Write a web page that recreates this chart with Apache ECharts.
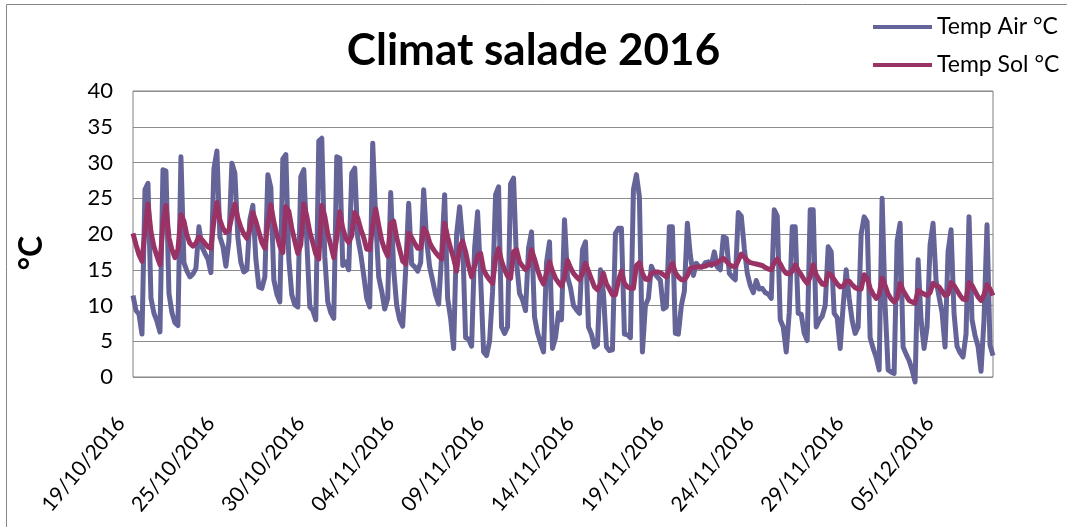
<!DOCTYPE html>
<html>
<head>
<meta charset="utf-8">
<script src="https://cdn.jsdelivr.net/npm/echarts@6/dist/echarts.min.js"></script>
<style>
  html, body { margin: 0; padding: 0; background: #fff; }
  #chart { width: 1067px; height: 527px; }
</style>
</head>
<body>
<div id="chart"></div>
<script>
// ---- data ----
const chartTitle = 'Climat salade 2016';
const yAxisTitle = '°C';
const seriesNames = ['Temp Air °C', 'Temp Sol °C'];

// days present in the record (one day missing between 21/10 and 23/10, and 01/12-03/12)
const days = [
  '19/10/2016','20/10/2016','21/10/2016','23/10/2016','24/10/2016','25/10/2016',
  '26/10/2016','27/10/2016','28/10/2016','29/10/2016','30/10/2016',
  '31/10/2016','01/11/2016','02/11/2016','03/11/2016','04/11/2016',
  '05/11/2016','06/11/2016','07/11/2016','08/11/2016','09/11/2016',
  '10/11/2016','11/11/2016','12/11/2016','13/11/2016','14/11/2016',
  '15/11/2016','16/11/2016','17/11/2016','18/11/2016','19/11/2016',
  '20/11/2016','21/11/2016','22/11/2016','23/11/2016','24/11/2016',
  '25/11/2016','26/11/2016','27/11/2016','28/11/2016','29/11/2016',
  '30/11/2016','01/12/2016','03/12/2016','04/12/2016','05/12/2016',
  '06/12/2016','07/12/2016'
];
const hours = ['00:00','04:00','08:00','12:00','16:00','20:00'];

const airTemp = [
  11.4, 9.3, 8.8, 6.0, 26.2, 27.1, 11.0, 8.9, 7.8, 6.3,
  29.0, 28.8, 11.7, 9.0, 7.6, 7.2, 30.8, 16.0, 14.8, 14.0,
  14.4, 15.2, 21.0, 18.2, 17.3, 16.5, 14.6, 29.1, 31.6, 19.6,
  18.3, 15.5, 19.0, 29.9, 28.5, 19.5, 16.0, 14.7, 15.0, 22.0,
  24.0, 16.5, 12.6, 12.4, 14.0, 28.3, 26.5, 13.6, 11.6, 10.5,
  30.5, 31.1, 16.5, 11.5, 10.1, 9.8, 28.0, 29.0, 19.0, 9.8,
  9.3, 8.0, 33.0, 33.4, 16.8, 10.5, 9.0, 8.2, 30.8, 30.6,
  15.6, 16.1, 15.0, 28.5, 29.2, 19.5, 17.2, 14.2, 11.0, 9.8,
  32.7, 22.0, 14.0, 12.0, 9.5, 11.0, 25.8, 15.0, 10.0, 8.0,
  7.1, 15.0, 24.3, 15.8, 15.4, 14.8, 16.0, 26.2, 19.0, 15.4,
  13.5, 11.5, 10.2, 17.0, 25.5, 11.0, 8.2, 4.0, 20.0, 23.8,
  19.0, 5.5, 5.3, 4.3, 18.0, 23.1, 14.0, 3.5, 3.0, 5.0,
  12.0, 25.5, 26.6, 7.0, 6.1, 7.0, 27.0, 27.8, 16.0, 11.7,
  10.8, 9.3, 18.0, 20.3, 8.4, 6.2, 4.8, 3.5, 16.0, 18.9,
  4.0, 5.5, 9.0, 8.0, 22.0, 14.0, 12.5, 10.0, 9.4, 8.9,
  17.8, 18.9, 7.0, 6.0, 4.2, 4.5, 15.0, 11.7, 4.2, 3.7,
  3.8, 20.1, 20.8, 20.8, 6.0, 5.9, 5.5, 26.2, 28.3, 25.2,
  3.5, 10.0, 11.0, 15.5, 14.5, 14.0, 13.5, 9.5, 9.8, 21.0,
  21.0, 6.1, 6.0, 10.0, 12.0, 21.5, 17.0, 14.2, 15.9, 15.4,
  15.4, 16.0, 16.1, 15.6, 17.5, 15.4, 15.0, 19.6, 19.4, 14.5,
  14.0, 13.6, 23.0, 22.5, 18.0, 14.5, 12.8, 11.8, 13.5, 12.3,
  12.4, 11.8, 11.6, 11.0, 23.4, 22.5, 8.0, 7.0, 3.5, 9.0,
  21.0, 21.0, 8.9, 8.8, 6.1, 5.1, 23.4, 23.4, 7.0, 7.9,
  8.5, 10.0, 18.2, 17.5, 8.9, 8.3, 4.0, 10.0, 15.0, 11.0,
  7.9, 6.1, 7.0, 20.0, 22.4, 21.7, 5.5, 4.0, 2.8, 1.0,
  25.0, 10.0, 1.0, 0.7, 0.5, 19.0, 21.5, 4.2, 3.2, 2.3,
  1.0, -0.7, 16.4, 8.0, 4.0, 7.0, 18.5, 21.5, 13.5, 11.2,
  9.0, 4.2, 17.5, 20.6, 8.9, 4.3, 3.4, 2.8, 6.0, 22.4,
  8.0, 5.8, 4.3, 0.8, 8.0, 21.3, 4.5, 3.0
];

const soilTemp = [
  20.1, 18.5, 17.1, 16.2, 20.5, 24.2, 20.3, 18.2, 16.9, 15.7,
  21.5, 24.0, 19.5, 17.8, 16.7, 17.8, 22.7, 21.8, 19.8, 18.7,
  18.3, 18.7, 19.6, 19.2, 18.7, 18.2, 18.0, 21.8, 24.4, 22.0,
  20.8, 20.2, 20.5, 22.5, 24.2, 22.2, 20.9, 20.0, 19.4, 20.6,
  23.0, 21.8, 20.3, 18.8, 18.0, 21.5, 24.1, 21.7, 19.9, 18.3,
  17.4, 23.8, 23.2, 20.8, 19.0, 17.3, 18.5, 24.2, 22.5, 20.3,
  18.8, 17.2, 16.5, 24.0, 22.5, 20.0, 18.4, 16.7, 19.5, 23.1,
  20.8, 19.4, 18.8, 19.8, 23.0, 22.2, 20.7, 19.5, 17.9, 17.8,
  21.3, 23.5, 21.2, 19.1, 17.8, 16.9, 21.5, 21.8, 19.5, 17.8,
  16.2, 15.8, 20.1, 19.5, 18.7, 18.0, 18.0, 20.8, 20.2, 18.8,
  18.0, 17.4, 16.9, 16.5, 21.5, 19.6, 18.0, 16.6, 14.8, 18.2,
  19.0, 17.5, 15.5, 14.0, 15.5, 17.0, 17.3, 15.0, 14.2, 13.6,
  13.1, 16.5, 18.0, 16.2, 15.0, 14.1, 13.8, 17.5, 17.8, 16.1,
  15.5, 15.0, 15.5, 17.8, 16.5, 15.0, 13.8, 13.0, 14.5, 16.1,
  14.8, 13.8, 13.2, 12.7, 14.0, 16.3, 15.3, 14.5, 14.0, 13.6,
  14.5, 15.9, 14.8, 13.7, 12.6, 12.2, 13.0, 14.5, 13.0, 12.3,
  11.5, 11.5, 13.5, 14.8, 13.1, 12.6, 12.4, 12.4, 15.6, 16.0,
  14.5, 13.7, 13.6, 14.5, 14.7, 14.7, 14.6, 14.3, 14.0, 15.0,
  15.9, 14.6, 14.0, 13.6, 13.6, 14.2, 15.2, 15.3, 15.4, 15.4,
  15.4, 15.5, 15.7, 15.8, 15.8, 16.0, 16.3, 16.6, 16.2, 15.7,
  15.5, 15.4, 16.3, 17.2, 16.8, 16.3, 16.0, 15.9, 15.8, 15.7,
  15.6, 15.3, 15.1, 15.0, 16.0, 16.5, 15.8, 15.0, 14.5, 14.4,
  14.8, 15.7, 14.9, 14.3, 13.6, 13.1, 14.0, 15.7, 14.3, 13.6,
  13.0, 12.9, 14.5, 14.3, 13.6, 13.0, 12.6, 12.7, 13.4, 13.4,
  12.9, 12.5, 12.3, 12.3, 14.3, 13.8, 12.4, 11.6, 11.0, 11.5,
  13.8, 12.8, 11.6, 10.9, 10.5, 11.0, 13.1, 12.1, 11.4, 10.7,
  10.5, 10.3, 12.1, 11.8, 11.6, 11.4, 11.8, 13.1, 12.8, 12.6,
  12.0, 11.4, 11.6, 13.2, 12.8, 12.1, 11.4, 10.9, 10.8, 13.2,
  12.8, 12.0, 11.2, 10.7, 11.5, 12.9, 12.3, 11.4
];

const yTicks = { min: 0, max: 40, step: 5 };

// ---- build categories ----
const categories = [];
days.forEach(d => hours.forEach(h => categories.push(d + ' ' + h)));

const FONT = 'Lato, "Open Sans", sans-serif';
const AIR_COLOR = '#646499';
const SOL_COLOR = '#993366';

const chart = echarts.init(document.getElementById('chart'), null, { renderer: 'canvas' });
chart.setOption({
  animation: false,
  backgroundColor: '#ffffff',
  textStyle: { fontFamily: FONT, color: '#000' },
  title: {
    text: chartTitle,
    left: 'center',
    top: 24,
    textStyle: { fontFamily: FONT, fontSize: 44, fontWeight: 'bold', color: '#000' }
  },
  legend: {
    orient: 'vertical',
    left: 873,
    top: 15,
    padding: 0,
    itemWidth: 59,
    itemHeight: 4,
    itemGap: 14,
    textStyle: { fontFamily: FONT, fontSize: 23, color: '#000', lineHeight: 24 },
    data: [
      { name: seriesNames[0], icon: 'rect' },
      { name: seriesNames[1], icon: 'rect' }
    ]
  },
  graphic: [{
    type: 'rect',
    shape: { x: 6.5, y: 4.5, width: 1070, height: 560 },
    style: { fill: 'none', stroke: '#868686', lineWidth: 1 },
    silent: true,
    z: -1
  }],
  grid: {
    left: 133, top: 91, right: 74, bottom: 150,
    show: true, borderColor: '#808080', borderWidth: 1, backgroundColor: 'transparent'
  },
  xAxis: {
    type: 'category',
    data: categories,
    boundaryGap: false,
    axisLine: { show: false },
    axisTick: { show: false },
    splitLine: { show: false },
    axisLabel: {
      interval: 29,
      rotate: 50,
      margin: 28,
      padding: [0, 19, 0, 0],
      fontFamily: FONT,
      fontSize: 21,
      color: '#000',
      formatter: v => v.split(' ')[0]
    }
  },
  yAxis: {
    type: 'value',
    min: yTicks.min, max: yTicks.max, interval: yTicks.step,
    name: yAxisTitle,
    nameLocation: 'middle',
    nameRotate: 90,
    nameGap: 85,
    nameTextStyle: { fontFamily: FONT, fontSize: 32, fontWeight: 'bold', color: '#000', padding: [0, 38, 0, 0] },
    axisLine: { show: false },
    axisTick: { show: false },
    splitLine: { lineStyle: { color: '#8c8c8c', width: 1 } },
    axisLabel: { fontFamily: FONT, fontSize: 22, color: '#000', margin: 20 }
  },
  series: [
    {
      name: seriesNames[0], type: 'line', data: airTemp,
      showSymbol: false, symbol: 'none', clip: false,
      lineStyle: { color: AIR_COLOR, width: 5, join: 'round' },
      itemStyle: { color: AIR_COLOR }
    },
    {
      name: seriesNames[1], type: 'line', data: soilTemp,
      showSymbol: false, symbol: 'none', clip: false,
      lineStyle: { color: SOL_COLOR, width: 5, join: 'round' },
      itemStyle: { color: SOL_COLOR }
    }
  ]
});
</script>
</body>
</html>
